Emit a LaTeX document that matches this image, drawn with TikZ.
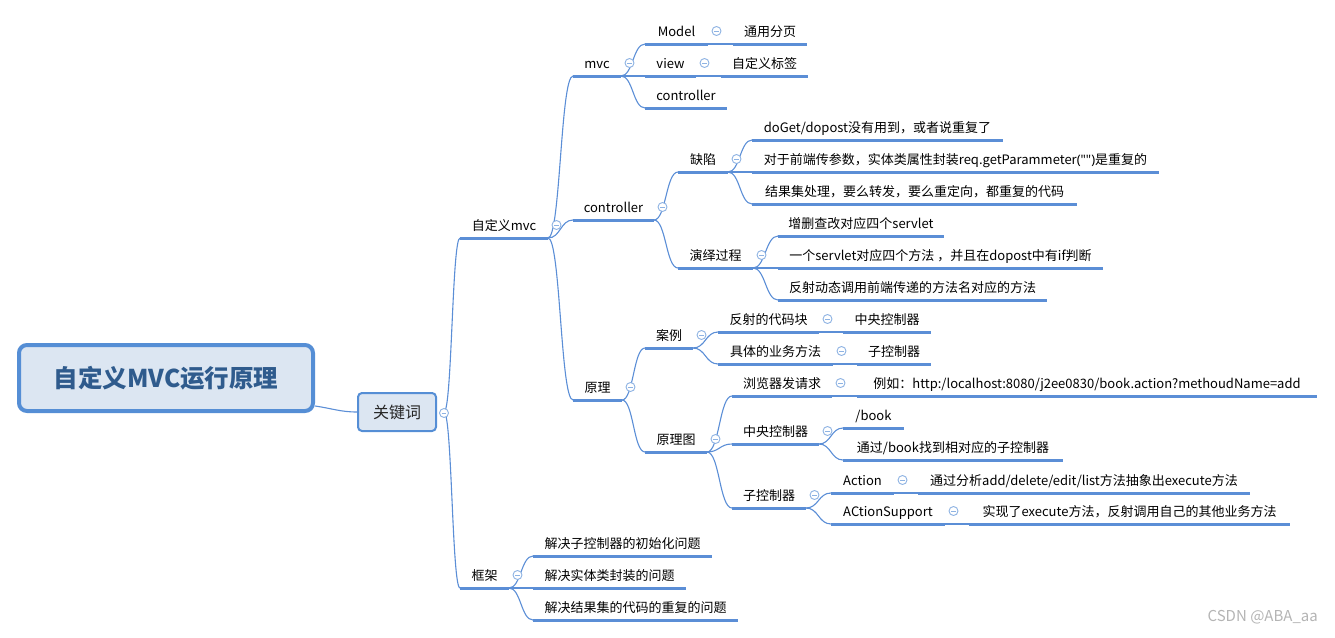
\documentclass[tikz,border=0pt]{standalone}
\usepackage{fontspec}
\setmainfont{Noto Sans CJK SC}
\newfontfamily\mmlatin{Noto Sans}
\usetikzlibrary{calc}
\definecolor{lineblue}{HTML}{5B8ED6}
\definecolor{circblue}{HTML}{8EB3E3}
\definecolor{boxfill}{HTML}{DCE6F2}
\definecolor{boxline}{HTML}{558ED5}
\definecolor{roottext}{HTML}{2F5B8D}
\definecolor{wmgray}{HTML}{B4B4B4}

\newcommand\mmtopic[5]{%
  \coordinate (#1L) at (#2,#4);
  \coordinate (#1R) at (#3,#4);
  \draw[uline] (#1L) -- (#1R);
  \node[lbl] (#1) at ({(#2+#3)/2},{#4-8}) {#5};}
\newcommand\mmcoll[1]{\node[coll] (#1C) at ([xshift=8.5pt,yshift=13pt]#1R) {};}
\newcommand\mmbranch[2]{\draw[conn] let \p1=(#1R), \p2=(#2L) in (\p1) .. controls ({(\x1+\x2)/2},\y1) and ({(\x1+\x2)/2},\y2) .. (\p2);}

\begin{document}
\begin{tikzpicture}[x=1pt,y=-1pt,
  uline/.style={draw=lineblue,line width=3pt},
  conn/.style={draw=lineblue,line width=1.1pt},
  lbl/.style={font=\fontsize{13}{15}\selectfont,inner sep=0pt,anchor=base,text=black},
  coll/.style={circle,draw=circblue,fill=white,line width=0.9pt,minimum size=9pt,inner sep=0pt,
    path picture={\draw[circblue,line width=0.9pt] ([xshift=-2.4pt]path picture bounding box.center) -- ([xshift=2.4pt]path picture bounding box.center);}},
  rootbox/.style={draw=boxline,fill=boxfill,line width=4pt,rounded corners=8pt,minimum width=294pt,minimum height=66pt,
    font=\fontsize{24.5}{28}\selectfont\bfseries,text=roottext,inner sep=0pt},
  kwbox/.style={draw=boxline,fill=boxfill,line width=2pt,rounded corners=4pt,minimum width=78pt,minimum height=38pt,
    font=\fontsize{16}{18}\selectfont,text=black!85,inner sep=0pt}
]
\useasboundingbox (0,0) rectangle (1335,637);

% root and keyword box
\node[rootbox] (root) at (166,378) {自定义MVC运行原理};
\node[kwbox] (kw) at (397,412) {关键词};
\coordinate (kwR) at (444,412);
\draw[conn] ([yshift=-28pt]root.east) to[out=-8,in=180] (kw.west);

% topics
\mmtopic{zmvc}{460}{548}{238}{自定义mvc}
\mmtopic{kj}{460}{509}{588}{框架}

\mmtopic{mvc}{573}{621}{76}{mvc}
\mmtopic{ctl}{573}{654}{220}{controller}
\mmtopic{yl}{573}{622}{400}{原理}

\mmtopic{model}{645}{708}{44}{Model}
\mmtopic{view}{645}{696}{76}{view}
\mmtopic{ctlb}{645}{727}{108}{controller}
\mmtopic{tyfy}{733}{807}{44}{通用分页}
\mmtopic{zdybq}{721}{808}{76}{自定义标签}

\mmtopic{qx}{678}{728}{172}{缺陷}
\mmtopic{yygc}{678}{753}{268}{演绎过程}
\mmtopic{qxa}{752}{1003}{140}{doGet/dopost没有用到，或者说重复了}
\mmtopic{qxb}{752}{1159}{172}{对于前端传参数，实体类属性封装req.getParammeter{\mmlatin("")}是重复的}
\mmtopic{qxc}{752}{1077}{204}{结果集处理，要么转发，要么重定向，都重复的代码}
\mmtopic{yya}{778}{944}{236}{增删查改对应四个servlet}
\mmtopic{yyb}{778}{1103}{268}{一个servlet对应四个方法 ，并且在dopost中有if判断}
\mmtopic{yyc}{778}{1047}{300}{反射动态调用前端传递的方法名对应的方法}

\mmtopic{al}{645}{693}{348}{案例}
\mmtopic{ylt}{645}{707}{452}{原理图}
\mmtopic{fs}{718}{819}{332}{反射的代码块}
\mmtopic{jt}{718}{833}{364}{具体的业务方法}
\mmtopic{zya}{843}{931}{332}{中央控制器}
\mmtopic{zka}{857}{931}{364}{子控制器}

\mmtopic{llq}{732}{832}{396}{浏览器发请求}
\mmtopic{lr}{857}{1317}{396}{例如：http:/localhost:8080/j2ee0830/book.action?methoudName=add}
\mmtopic{zy}{732}{819}{444}{中央控制器}
\mmtopic{book}{843}{904}{428}{/book}
\mmtopic{tg}{843}{1063}{460}{通过/book找到相对应的子控制器}
\mmtopic{zk}{732}{806}{508}{子控制器}
\mmtopic{act}{831}{894}{493}{Action}
\mmtopic{acta}{918}{1250}{493}{通过分析add/delete/edit/list方法抽象出execute方法}
\mmtopic{acs}{831}{945}{524}{ACtionSupport}
\mmtopic{acsa}{969}{1290}{524}{实现了execute方法，反射调用自己的其他业务方法}

\mmtopic{kja}{533}{712}{556}{解决子控制器的初始化问题}
\mmtopic{kjb}{533}{686}{588}{解决实体类封装的问题}
\mmtopic{kjc}{533}{738}{620}{解决结果集的代码的重复的问题}

% connectors
\mmbranch{kw}{zmvc}
\mmbranch{kw}{kj}
\mmbranch{zmvc}{mvc}
\mmbranch{zmvc}{ctl}
\mmbranch{zmvc}{yl}
\mmbranch{mvc}{model}
\mmbranch{mvc}{view}
\mmbranch{mvc}{ctlb}
\mmbranch{model}{tyfy}
\mmbranch{view}{zdybq}
\mmbranch{ctl}{qx}
\mmbranch{ctl}{yygc}
\mmbranch{qx}{qxa}
\mmbranch{qx}{qxb}
\mmbranch{qx}{qxc}
\mmbranch{yygc}{yya}
\mmbranch{yygc}{yyb}
\mmbranch{yygc}{yyc}
\mmbranch{yl}{al}
\mmbranch{yl}{ylt}
\mmbranch{al}{fs}
\mmbranch{al}{jt}
\mmbranch{fs}{zya}
\mmbranch{jt}{zka}
\mmbranch{ylt}{llq}
\mmbranch{ylt}{zy}
\mmbranch{ylt}{zk}
\mmbranch{llq}{lr}
\mmbranch{zy}{book}
\mmbranch{zy}{tg}
\mmbranch{zk}{act}
\mmbranch{zk}{acs}
\mmbranch{act}{acta}
\mmbranch{acs}{acsa}
\mmbranch{kj}{kja}
\mmbranch{kj}{kjb}
\mmbranch{kj}{kjc}

% collapse markers
\node[coll] (kwC) at (444,413) {};
\mmcoll{zmvc}\mmcoll{kj}\mmcoll{mvc}\mmcoll{model}\mmcoll{view}
\mmcoll{ctl}\mmcoll{qx}\mmcoll{yygc}\mmcoll{yl}\mmcoll{al}\mmcoll{fs}\mmcoll{jt}
\mmcoll{ylt}\mmcoll{llq}\mmcoll{zy}\mmcoll{zk}\mmcoll{act}\mmcoll{acs}

% watermark
\node[font=\fontsize{15}{17}\selectfont,text=wmgray,anchor=east,inner sep=0pt] (wm) at (1318,617) {CSDN @ABA\_aa};
\end{tikzpicture}
\end{document}
